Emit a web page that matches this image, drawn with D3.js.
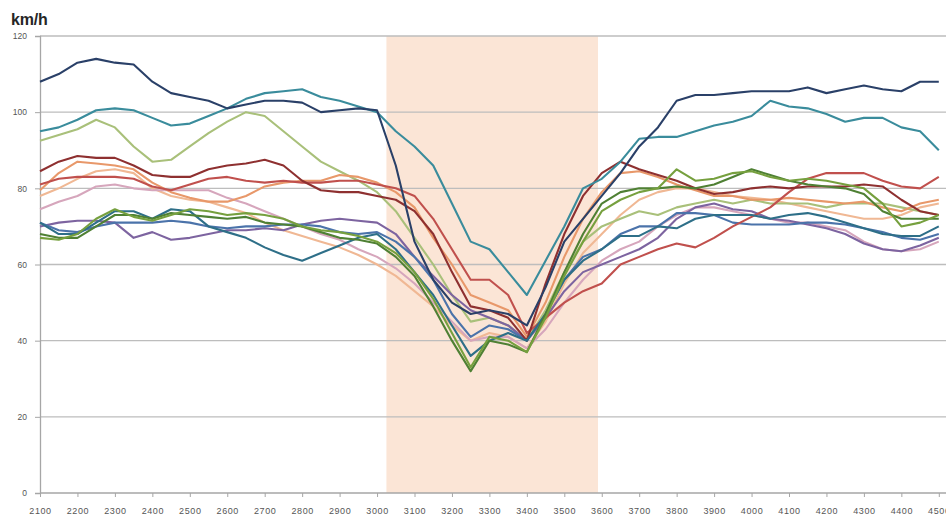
<!DOCTYPE html>
<html><head><meta charset="utf-8">
<script src="https://cdn.jsdelivr.net/npm/d3@7"></script>
<style>
html,body{margin:0;padding:0;background:#fff;}
svg{display:block;font-family:Arial,"Liberation Sans",sans-serif;}
</style></head>
<body><svg id="chart" width="946" height="519"></svg>
<script>
// distance (m) at which each sample was read
const distance = [2100,2150,2200,2250,2300,2350,2400,2450,2500,2550,2600,2650,2700,2750,2800,2850,2900,2950,3000,3050,3100,3150,3200,3250,3300,3350,3400,3450,3500,3550,3600,3650,3700,3750,3800,3850,3900,3950,4000,4050,4100,4150,4200,4250,4300,4350,4400,4450,4500];
const xTicks = [2100,2200,2300,2400,2500,2600,2700,2800,2900,3000,3100,3200,3300,3400,3500,3600,3700,3800,3900,4000,4100,4200,4300,4400,4500];
const yTicks = [0,20,40,60,80,100,120];
const shadeStart = 3025, shadeEnd = 3590;
const unitLabel = "km/h";

const navy = [108,110,113,114,113,112.5,108,105,104,103,101,102,103,103,102.5,100,100.5,101,100.5,86,66,56,50,47,48,47,44,54,66,72,78,84,91,96,103,104.5,104.5,105,105.5,105.5,105.5,106.5,105,106,107,106,105.5,108,108];
const teal = [95,96,98,100.5,101,100.5,98.5,96.5,97,99,101,103.5,105,105.5,106,104,103,101.5,100,95,91,86,76,66,64,58,52,61,70,80,82.5,87,93,93.5,93.5,95,96.5,97.5,99,103,101.5,101,99.5,97.5,98.5,98.5,96,95,90];
const olive = [92.5,94,95.5,98,96,91,87,87.5,91,94.5,97.5,100,99,95,91,87,84.5,82,79,74,67,60,52,45,46,44,40,48,58,66,70,72,74,73,75,76,77,76,77,76,76,76,75,76,76,76,75,74,73];
const maroon = [84.5,87,88.5,88,88,86,83.5,83,83,85,86,86.5,87.5,86,82,79.5,79,79,78,77,74,68,58,49,48,46,40,55,68,78,84,87,85,83.5,82,80,78.5,79,80,80.5,80,80.5,80.5,80.5,81,80.5,77,74,73];
const red = [81,82.5,83,83,83,82.5,80.5,79.5,81,82.5,83,82,81.5,82,81.5,81.5,82,82,81,80,78,72,64,56,56,52,42,46,50,53,55,60,62,64,65.5,64.5,67,70,72.5,75,79,82.5,84,84,84,82,80.5,80,83];
const orange = [79.5,84,87,86.5,86,85,81.5,79,77.5,76.5,76.5,78,80.5,81.5,82,82,83.5,83,81.5,79,75,67,60,52,50,48,41,50,62,72,79,84,84.5,83,81,79.5,78,78,77,77,77.5,77,76.5,76,76.5,75,74,76,77];
const peach = [78,80,82.5,84.5,85,84,80,78,77,76.5,75,73.5,71,69,67.5,66,64.5,62.5,60,57,53,49,44,40,42,41,38,45,55,63,68,73,77,79,80,80,79,78,77.5,77,76,75,74,73,72,72,73,75,76];
const pink = [74.5,76.5,78,80.5,81,80,79.5,79.5,79.5,79.5,77.5,76,74,72,70,68,66.5,64,62,59,55,50,45,40,41,41,38,43,50,56,61,64,66,70,73,75,75,74,73,72,71,71,70,69,66,64,63.5,64,66];
const blue = [71,69,68.5,70,71,71,71,71.5,71,70,69.5,70,70,70.5,70.5,70,68.5,68,68.5,66,62,56,47,41,44,43,40,47,56,62,64,68,70,70,73.5,73.5,73,71,70.5,70.5,70.5,71,71,70.5,69.5,68.5,67,66.5,68];
const purple = [70,71,71.5,71.5,71,67,68.5,66.5,67,68,69,69,69.5,69,70.5,71.5,72,71.5,71,68,62,57,52,48,46,44,40,46,53,58,60,62,64,67,72,75,76,74.5,74,72,71.5,70.5,69.5,68,65.5,64,63.5,65,67];
const darkTeal = [71,68,68,71,74,74,72,74.5,74,70,68.5,67,64.5,62.5,61,63,65,67,68,64,58,52,44,36,40,42,40,47,56,61,64,67.5,67.5,70,69.5,72,73,73,73,72,73,73.5,72.5,71,69.5,68,67.5,67.5,70];
const green = [67,66.5,68,72,74.5,72.5,71.5,73,74.5,74,73,73.5,73,72,70,69,68.5,67.5,66,63,58,51,42,33,41,40,37,46,57,66,74,77,79,80,85,82,82.5,84,84.5,83,82,82.5,82,81,80,76,70,71,73];
const green2 = [68,67,67,70,73,73,72,73.5,73,72.5,72,72.5,71,70.5,70,68.5,67,66.5,65.5,62,57,49,40,32,40,39,37,47,58,68,76,79,80,80,80.5,80,81,83,85,83.5,82,81,80.5,80,78.5,74,72,72,72];

const seriesList = [
  {name:"peach", values:peach, color:"#F0B894"},
  {name:"pink", values:pink, color:"#D6A6BC"},
  {name:"olive", values:olive, color:"#A9C07A"},
  {name:"orange", values:orange, color:"#E8986A"},
  {name:"purple", values:purple, color:"#7D64A0"},
  {name:"blue", values:blue, color:"#4B73AA"},
  {name:"red", values:red, color:"#C0504D"},
  {name:"maroon", values:maroon, color:"#8E3030"},
  {name:"darkTeal", values:darkTeal, color:"#2E6F88"},
  {name:"green2", values:green2, color:"#4F8034"},
  {name:"green", values:green, color:"#76A03E"},
  {name:"teal", values:teal, color:"#3A8C9C"},
  {name:"navy", values:navy, color:"#2A4068"}
];

const svg = d3.select("#chart");
const plotLeft = 40, plotBottom = 493, plotTop = 36, plotRight = 946;
const x = d3.scaleLinear().domain([2100,4500]).range([plotLeft, 938.8]);
const y = d3.scaleLinear().domain([0,120]).range([plotBottom, plotTop]);

// shaded zone
svg.append("rect")
  .attr("x", x(shadeStart)).attr("y", y(120))
  .attr("width", x(shadeEnd) - x(shadeStart))
  .attr("height", y(0) - y(120))
  .attr("fill", "#FBE5D6");

// gridlines
svg.append("g").selectAll("line").data(yTicks.filter(d => d > 0)).join("line")
  .attr("x1", plotLeft).attr("x2", plotRight)
  .attr("y1", d => y(d)).attr("y2", d => y(d))
  .attr("stroke", "#BDBDBD").attr("stroke-width", 1.3);

// y axis
const yAxis = d3.axisLeft(y).tickValues(yTicks).tickSize(5).tickPadding(8);
const gy = svg.append("g").attr("transform", `translate(${plotLeft},0)`).call(yAxis);
gy.select(".domain").attr("stroke", "#A6A6A6").attr("stroke-width", 1.3);
gy.selectAll(".tick line").attr("stroke", "#A6A6A6");
gy.selectAll("text").attr("fill", "#555").attr("font-size", 8.5);

// x axis
const xAxis = d3.axisBottom(x).tickValues(xTicks).tickSize(4).tickPadding(11).tickFormat(d3.format("d"));
const gx = svg.append("g").attr("transform", `translate(0,${plotBottom})`).call(xAxis);
gx.select(".domain").attr("d", `M${plotLeft},0H${plotRight}`).attr("stroke", "#A6A6A6").attr("stroke-width", 1.3);
gx.selectAll(".tick line").attr("stroke", "#A6A6A6");
gx.selectAll("text").attr("fill", "#555").attr("font-size", 9).attr("letter-spacing", 0.6);

// lines
const line = d3.line()
  .x((d, i) => x(distance[i]))
  .y(d => y(d))
  .curve(d3.curveLinear);

svg.append("g").selectAll("path").data(seriesList).join("path")
  .attr("d", s => line(s.values))
  .attr("fill", "none")
  .attr("stroke", s => s.color)
  .attr("stroke-width", 2.1)
  .attr("stroke-linejoin", "round");

// unit label
svg.append("text").attr("x", 11).attr("y", 25)
  .attr("font-size", 16).attr("font-weight", "bold").attr("fill", "#262626")
  .attr("letter-spacing", -0.2)
  .text(unitLabel);
</script>
</body></html>
